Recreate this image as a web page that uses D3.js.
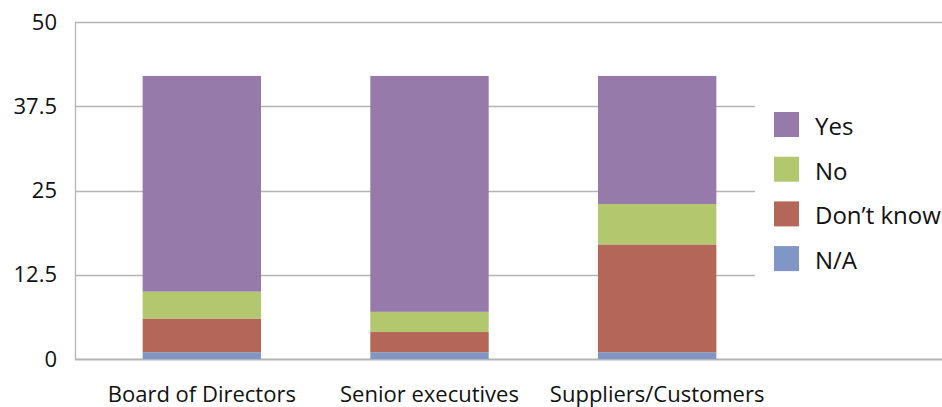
<!DOCTYPE html>
<html>
<head>
<meta charset="utf-8">
<script src="https://cdn.jsdelivr.net/npm/d3@7"></script>
<style>
  body { margin: 0; background: #fff; }
  svg { display: block; font-family: "Open Sans", "Liberation Sans", sans-serif; }
</style>
</head>
<body>
<div id="chart"></div>
<script>
// data
const categories = ["Board of Directors", "Senior executives", "Suppliers/Customers"];
const seriesNames = ["N/A", "Don\u2019t know", "No", "Yes"];
const naValues = [1, 1, 1];
const dontKnowValues = [5, 3, 16];
const noValues = [4, 3, 6];
const yesValues = [32, 35, 19];
const yTicks = [0, 12.5, 25, 37.5, 50];

const colors = {"N/A": "#7f96c7", "Don\u2019t know": "#b46659", "No": "#b2c76e", "Yes": "#967aaa"};
const width = 942, height = 407;

const rows = categories.map((c, i) => ({
    category: c,
    "N/A": naValues[i],
    "Don\u2019t know": dontKnowValues[i],
    "No": noValues[i],
    "Yes": yesValues[i]
}));

const svg = d3.select("#chart")
    .append("svg")
    .attr("width", width)
    .attr("height", height);

const plotLeft = 75, plotRight = 755;
const y = d3.scaleLinear().domain([0, 50]).range([359, 22]);
const x = d3.scaleBand().domain(categories).range([88, 771]).paddingInner(0.48).paddingOuter(0.24);

// gridlines
svg.append("g")
    .selectAll("line")
    .data(yTicks)
    .join("line")
    .attr("x1", plotLeft)
    .attr("x2", d => (d === 0 || d === 50) ? width : plotRight)
    .attr("y1", d => Math.round(y(d)) + 0.5)
    .attr("y2", d => Math.round(y(d)) + 0.5)
    .attr("stroke", "#b4b4b4")
    .attr("stroke-width", d => d === 0 ? 2 : 1.3);

// left axis line
svg.append("line")
    .attr("x1", plotLeft + 0.5).attr("x2", plotLeft + 0.5)
    .attr("y1", y(50)).attr("y2", y(0) + 1)
    .attr("stroke", "#b4b4b4").attr("stroke-width", 1.3);

// tick labels
svg.append("g")
    .selectAll("text")
    .data(yTicks)
    .join("text")
    .attr("x", 57)
    .attr("y", d => y(d))
    .attr("dy", "0.35em")
    .attr("text-anchor", "end")
    .style("font-size", "22px")
    .style("fill", "#111")
    .text(d => d);

// stacked bars
const stack = d3.stack().keys(seriesNames);
const layers = stack(rows);

svg.append("g")
    .selectAll("g")
    .data(layers)
    .join("g")
    .attr("fill", d => colors[d.key])
    .selectAll("rect")
    .data(d => d)
    .join("rect")
    .attr("x", d => x(d.data.category))
    .attr("width", x.bandwidth())
    .attr("y", d => y(d[1]))
    .attr("height", d => y(d[0]) - y(d[1]));

// category labels
svg.append("g")
    .selectAll("text")
    .data(categories)
    .join("text")
    .attr("x", d => x(d) + x.bandwidth() / 2)
    .attr("y", 402)
    .attr("text-anchor", "middle")
    .style("font-size", "22px")
    .style("fill", "#111")
    .text(d => d);

// legend
const legendItems = seriesNames.slice().reverse();
const legend = svg.append("g")
    .selectAll("g")
    .data(legendItems)
    .join("g")
    .attr("transform", (d, i) => `translate(774, ${112 + i * 44.7})`);

legend.append("rect")
    .attr("width", 25)
    .attr("height", 25)
    .attr("fill", d => colors[d]);

legend.append("text")
    .attr("x", 41)
    .attr("y", 23)
    .style("font-size", "24px")
    .style("fill", "#111")
    .text(d => d);
</script>
</body>
</html>
